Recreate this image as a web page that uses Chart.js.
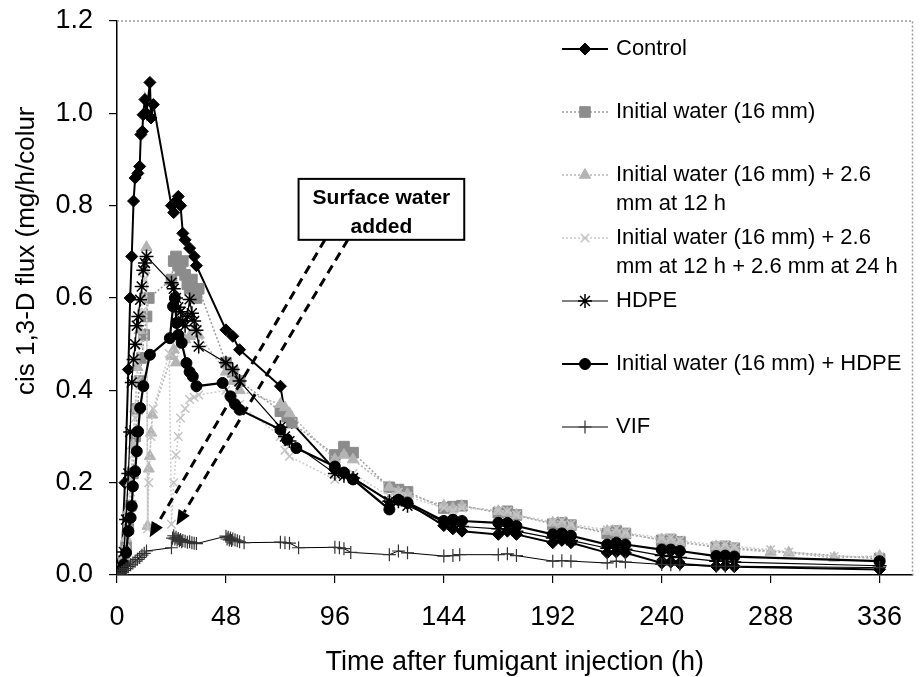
<!DOCTYPE html>
<html>
<head>
<meta charset="utf-8">
<script src="https://cdn.jsdelivr.net/npm/chart.js@4.4.1/dist/chart.umd.min.js"></script>
<style>
  html, body { margin: 0; padding: 0; background: #fff; }
  #fluxChart { display: block; }
</style>
</head>
<body>
<canvas id="fluxChart" width="921" height="677"></canvas>
<script>
// === tick labels ===
const xTickValues = [0, 48, 96, 144, 192, 240, 288, 336];
const yTickValues = [0, 0.2, 0.4, 0.6, 0.8, 1.0, 1.2];

// === series names (legend, wrapped like the original) ===
const seriesLabels = [
  ["Control"],
  ["Initial water (16 mm)"],
  ["Initial water (16 mm) + 2.6", "mm at 12 h"],
  ["Initial water (16 mm) + 2.6", "mm at 12 h + 2.6 mm at 24 h"],
  ["HDPE"],
  ["Initial water (16 mm) + HDPE"],
  ["VIF"]
];

// === data: time (h) and cis 1,3-D flux (mg/h/column) ===
const controlTimes = [0, 1, 2, 3.5, 5, 5.8, 6.5, 7.3, 8, 9.2, 10, 10.5, 11.2, 11.5, 12.3, 13, 14.5, 15, 16,
  24, 25, 26, 27, 28, 29, 30, 32, 34, 35, 48, 51, 54, 72, 74, 77, 96, 100, 104, 120, 124, 128,
  144, 148, 152, 168, 172, 176, 192, 196, 200, 216, 220, 224, 240, 244, 248, 264, 268, 272, 336];
const controlFlux = [0, 0.005, 0.03, 0.2, 0.445, 0.6, 0.69, 0.81, 0.86, 0.87, 0.885, 0.954, 0.961, 0.997, 1.03, 1.0, 1.067, 0.99, 1.019,
  0.8, 0.785, 0.81, 0.82, 0.8, 0.74, 0.726, 0.708, 0.69, 0.67, 0.531, 0.517, 0.488, 0.409, 0.35, 0.33, 0.228, 0.22, 0.21, 0.16, 0.163, 0.155,
  0.107, 0.1, 0.095, 0.088, 0.095, 0.088, 0.07, 0.075, 0.07, 0.048, 0.05, 0.048, 0.026, 0.028, 0.024, 0.019, 0.02, 0.018, 0.012];

const waterTimes = [0, 2, 3, 4, 5, 6, 7, 8, 9, 10, 11, 12, 13, 14,
  24, 25, 26, 27, 28, 29, 30, 31, 32, 33, 34, 35, 36, 48, 51, 54, 72, 75, 77, 96, 100, 104, 120, 124, 128,
  144, 148, 152, 168, 172, 176, 192, 196, 200, 216, 220, 224, 240, 244, 248, 264, 268, 272, 336];
const waterFlux = [0, 0.01, 0.03, 0.06, 0.1, 0.15, 0.22, 0.3, 0.36, 0.42, 0.47, 0.52, 0.56, 0.6,
  0.64, 0.68, 0.69, 0.67, 0.66, 0.68, 0.65, 0.63, 0.62, 0.64, 0.61, 0.6, 0.62, 0.46, 0.44, 0.42, 0.355, 0.343, 0.33, 0.26, 0.278, 0.265, 0.19, 0.185, 0.18,
  0.145, 0.148, 0.15, 0.135, 0.138, 0.13, 0.11, 0.113, 0.108, 0.09, 0.095, 0.09, 0.075, 0.077, 0.072, 0.06, 0.062, 0.058, 0.035];

const water12Times = [0, 2, 3, 4, 5, 6, 7, 8, 9, 10, 11, 12, 13, 13.5, 14, 14.5, 15, 15.5,
  24, 25, 26, 28, 30, 32, 34, 36, 48, 51, 54, 72, 74, 76, 96, 100, 104, 120, 124, 128,
  144, 148, 152, 168, 172, 176, 192, 196, 200, 216, 220, 224, 240, 244, 248, 264, 268, 272, 288, 296, 316, 336];
const water12Flux = [0, 0.01, 0.04, 0.08, 0.14, 0.2, 0.28, 0.36, 0.45, 0.53, 0.6, 0.66, 0.71, 0.106, 0.23, 0.257, 0.308, 0.347,
  0.474, 0.488, 0.46, 0.5, 0.51, 0.517, 0.53, 0.52, 0.44, 0.42, 0.4, 0.37, 0.363, 0.35, 0.25, 0.26, 0.25, 0.19, 0.18, 0.175,
  0.15, 0.145, 0.149, 0.138, 0.135, 0.13, 0.113, 0.11, 0.105, 0.095, 0.092, 0.088, 0.077, 0.075, 0.07, 0.062, 0.06, 0.056, 0.05, 0.048, 0.037, 0.041];

const water24Times = [0, 2, 3, 4, 5, 6, 7, 8, 9, 10, 11, 12, 13, 13.5, 14, 15, 16,
  23, 24, 25, 26, 27, 28, 30, 32, 34, 36, 48, 51, 54, 72, 74, 76, 96, 100, 104, 120, 124, 128,
  144, 148, 152, 168, 172, 176, 192, 196, 200, 216, 220, 224, 240, 244, 248, 264, 268, 272, 288, 296, 316, 336];
const water24Flux = [0, 0.01, 0.035, 0.07, 0.12, 0.18, 0.26, 0.34, 0.42, 0.5, 0.57, 0.64, 0.69, 0.1, 0.2, 0.3, 0.36,
  0.48, 0.11, 0.2, 0.26, 0.3, 0.34, 0.36, 0.38, 0.385, 0.39, 0.4, 0.38, 0.37, 0.3, 0.27, 0.257, 0.207, 0.215, 0.22, 0.17, 0.18, 0.17,
  0.145, 0.14, 0.145, 0.14, 0.138, 0.13, 0.115, 0.118, 0.11, 0.098, 0.1, 0.092, 0.08, 0.08, 0.075, 0.065, 0.066, 0.062, 0.055, 0.05, 0.04, 0.04];

const hdpeTimes = [0, 2, 3, 4, 5, 5.8, 6.5, 7.3, 8, 8.7, 9.4, 10.2, 10.9, 11.6, 12.3, 13,
  24, 25, 26, 27, 28, 29, 30, 31, 32, 33, 34, 35, 36, 48, 51, 54, 72, 74, 76, 96, 100, 104, 120, 124, 128,
  144, 148, 152, 168, 172, 176, 192, 196, 200, 216, 220, 224, 240, 244, 248, 264, 268, 272, 336];
const hdpeFlux = [0, 0.01, 0.05, 0.12, 0.22, 0.31, 0.417, 0.467, 0.5, 0.54, 0.56, 0.596, 0.625, 0.66, 0.676, 0.69,
  0.633, 0.62, 0.6, 0.58, 0.57, 0.55, 0.54, 0.56, 0.597, 0.567, 0.55, 0.53, 0.495, 0.46, 0.445, 0.42, 0.32, 0.3, 0.29, 0.22, 0.215, 0.21, 0.16, 0.16, 0.15,
  0.115, 0.11, 0.105, 0.1, 0.1, 0.095, 0.08, 0.08, 0.075, 0.058, 0.06, 0.056, 0.042, 0.04, 0.038, 0.03, 0.03, 0.028, 0.02];

const waterHdpeTimes = [0, 2, 3, 4, 5, 6, 6.5, 7, 8, 8.7, 9.3, 10.2, 11.6, 14.5,
  23.3, 24.7, 25.5, 26.2, 27, 28.5, 30.6, 32, 33.4, 35, 46.5, 50, 52, 54, 72, 75, 79, 96, 100, 104, 120, 124, 128,
  144, 148, 152, 168, 172, 176, 192, 196, 200, 216, 220, 224, 240, 244, 248, 264, 268, 272, 336];
const waterHdpeFlux = [0, 0.01, 0.023, 0.048, 0.095, 0.124, 0.149, 0.192, 0.225, 0.268, 0.311, 0.362, 0.409, 0.477,
  0.513, 0.582, 0.6, 0.546, 0.52, 0.503, 0.459, 0.44, 0.43, 0.409, 0.416, 0.387, 0.37, 0.358, 0.315, 0.293, 0.275, 0.235, 0.222, 0.207, 0.142, 0.163, 0.157,
  0.117, 0.12, 0.117, 0.113, 0.113, 0.106, 0.088, 0.09, 0.085, 0.066, 0.07, 0.066, 0.055, 0.055, 0.052, 0.041, 0.042, 0.04, 0.03];

const vifTimes = [0, 1, 2, 3, 4, 5, 6, 7, 8, 9, 10, 11, 12, 13,
  24, 24.5, 25, 25.5, 26, 26.5, 27, 27.5, 28, 28.5, 29, 30, 31, 32, 33, 34, 35,
  48, 48.5, 49, 49.5, 50, 50.5, 51, 52, 53, 54, 56, 72, 74, 76, 80, 96, 98, 100, 103, 120, 124, 128,
  144, 148, 151, 168, 172, 176, 192, 196, 200, 216, 220, 224, 240, 244, 248, 264, 268, 272, 336];
const vifFlux = [0, 0.003, 0.006, 0.01, 0.014, 0.018, 0.022, 0.026, 0.03, 0.034, 0.038, 0.043, 0.047, 0.052,
  0.059, 0.08, 0.085, 0.078, 0.082, 0.076, 0.079, 0.074, 0.077, 0.072, 0.075, 0.073, 0.071, 0.072, 0.07, 0.069, 0.068,
  0.084, 0.078, 0.082, 0.076, 0.08, 0.075, 0.078, 0.076, 0.074, 0.072, 0.07, 0.071, 0.07, 0.069, 0.059, 0.06, 0.059, 0.057, 0.049, 0.044, 0.052, 0.048,
  0.041, 0.042, 0.044, 0.044, 0.046, 0.042, 0.03, 0.031, 0.03, 0.026, 0.03, 0.028, 0.023, 0.022, 0.022, 0.019, 0.019, 0.019, 0.016];

// === look of each series ===
const FONT = "'Liberation Sans', Arial, sans-serif";
const seriesStyles = [
  { point: "rectRot",  radius: 6,   fill: "#000",    stroke: "#000",    pw: 1,   line: "#000",    width: 2,   dash: [] },
  { point: "rect",     radius: 7.5, fill: "#8c8c8c", stroke: "#8c8c8c", pw: 1,   line: "#9a9a9a", width: 1.5, dash: [2, 2] },
  { point: "triangle", radius: 6.5, fill: "#b4b4b4", stroke: "#b4b4b4", pw: 1,   line: "#b4b4b4", width: 1.5, dash: [2, 2] },
  { point: "crossRot", radius: 6,   fill: "#cfcfcf", stroke: "#c4c4c4", pw: 1.5, line: "#cccccc", width: 1.5, dash: [2, 2] },
  { point: "star",     radius: 7,   fill: "#000",    stroke: "#000",    pw: 1.5, line: "#000",    width: 1.2, dash: [] },
  { point: "circle",   radius: 5.5, fill: "#000",    stroke: "#000",    pw: 1,   line: "#000",    width: 2.2, dash: [] },
  { point: "cross",    radius: 6.5, fill: "#333",    stroke: "#333",    pw: 1.2, line: "#000",    width: 1,   dash: [] }
];

const pairs = (t, v) => t.map((h, i) => ({ x: h, y: v[i] }));
const seriesData = [
  pairs(controlTimes, controlFlux),
  pairs(waterTimes, waterFlux),
  pairs(water12Times, water12Flux),
  pairs(water24Times, water24Flux),
  pairs(hdpeTimes, hdpeFlux),
  pairs(waterHdpeTimes, waterHdpeFlux),
  pairs(vifTimes, vifFlux)
];

const datasets = seriesData.map((d, i) => {
  const s = seriesStyles[i];
  return {
    label: seriesLabels[i].join(" "),
    data: d,
    showLine: true,
    tension: 0,
    order: seriesData.length - i,   // later series on top, like the original
    borderColor: s.line,
    borderWidth: s.width,
    borderDash: s.dash,
    pointStyle: s.point,
    pointRadius: s.radius,
    pointBackgroundColor: s.fill,
    pointBorderColor: s.stroke,
    pointBorderWidth: s.pw
  };
});

// === frame, axis titles, annotation and legend ===
function drawArrow(ctx, x0, y0, x1, y1) {
  const ang = Math.atan2(y1 - y0, x1 - x0);
  const head = 15, half = 6.5;
  const bx = x1 - head * Math.cos(ang), by = y1 - head * Math.sin(ang);
  ctx.save();
  ctx.strokeStyle = "#000";
  ctx.lineWidth = 3;
  ctx.setLineDash([9, 6]);
  ctx.beginPath();
  ctx.moveTo(x0, y0);
  ctx.lineTo(bx, by);
  ctx.stroke();
  ctx.setLineDash([]);
  ctx.fillStyle = "#000";
  ctx.beginPath();
  ctx.moveTo(x1, y1);
  ctx.lineTo(bx + half * Math.sin(ang), by - half * Math.cos(ang));
  ctx.lineTo(bx - half * Math.sin(ang), by + half * Math.cos(ang));
  ctx.closePath();
  ctx.fill();
  ctx.restore();
}

const extras = {
  id: "extras",
  beforeDatasetsDraw(chart) {
    const { ctx, chartArea: a } = chart;
    ctx.save();
    ctx.strokeStyle = "#9a9a9a";
    ctx.lineWidth = 1.5;
    ctx.setLineDash([2, 2]);
    ctx.beginPath();
    ctx.moveTo(a.left, a.top);
    ctx.lineTo(a.right, a.top);
    ctx.lineTo(a.right, a.bottom);
    ctx.stroke();
    ctx.restore();
  },
  afterDraw(chart) {
    const { ctx, chartArea: a } = chart;
    const sx = chart.scales.x, sy = chart.scales.y;

    // y title (clipped at the top, as in the original)
    ctx.save();
    ctx.beginPath();
    ctx.rect(0, 107, 70, 570);
    ctx.clip();
    ctx.translate(27, 395);
    ctx.rotate(-Math.PI / 2);
    ctx.font = "26px " + FONT;
    ctx.fillStyle = "#000";
    ctx.textAlign = "left";
    ctx.textBaseline = "middle";
    ctx.fillText("cis 1,3-D flux (mg/h/column)", 0, 0);
    ctx.restore();

    // x title
    ctx.save();
    ctx.font = "27px " + FONT;
    ctx.fillStyle = "#000";
    ctx.textAlign = "center";
    ctx.textBaseline = "alphabetic";
    ctx.fillText("Time after fumigant injection (h)", (a.left + a.right) / 2, 670);
    ctx.restore();

    // "Surface water added" box and arrows (placed in data units)
    const bl = sx.getPixelForValue(80), br = sx.getPixelForValue(153);
    const bt = sy.getPixelForValue(0.858), bb = sy.getPixelForValue(0.726);
    drawArrow(ctx, sx.getPixelForValue(91.6), bb, sx.getPixelForValue(14.4), sy.getPixelForValue(0.082));
    drawArrow(ctx, sx.getPixelForValue(101.7), bb, sx.getPixelForValue(26.2), sy.getPixelForValue(0.108));
    ctx.save();
    ctx.fillStyle = "#fff";
    ctx.fillRect(bl, bt, br - bl, bb - bt);
    ctx.strokeStyle = "#000";
    ctx.lineWidth = 2;
    ctx.strokeRect(bl, bt, br - bl, bb - bt);
    ctx.fillStyle = "#000";
    ctx.font = "bold 21px " + FONT;
    ctx.textAlign = "center";
    ctx.textBaseline = "alphabetic";
    ctx.fillText("Surface water", (bl + br) / 2, bt + 25);
    ctx.fillText("added", (bl + br) / 2, bt + 54);
    ctx.restore();

    // legend
    const lx0 = 562, lx1 = 608, tx = 616;
    ctx.save();
    ctx.font = "22px " + FONT;
    ctx.textBaseline = "middle";
    ctx.textAlign = "left";
    seriesLabels.forEach((lines, i) => {
      const s = seriesStyles[i];
      const y = 49 + 63 * i;
      ctx.strokeStyle = s.line;
      ctx.lineWidth = s.width;
      ctx.setLineDash(s.dash);
      ctx.beginPath();
      ctx.moveTo(lx0, y);
      ctx.lineTo(lx1, y);
      ctx.stroke();
      ctx.setLineDash([]);
      ctx.fillStyle = s.fill;
      ctx.strokeStyle = s.stroke;
      ctx.lineWidth = s.pw;
      Chart.helpers.drawPoint(ctx, { pointStyle: s.point, radius: s.radius, rotation: 0, borderWidth: s.pw }, (lx0 + lx1) / 2, y);
      ctx.fillStyle = "#000";
      lines.forEach((t, k) => ctx.fillText(t, tx, y + 29 * k));
    });
    ctx.restore();
  }
};

new Chart(document.getElementById("fluxChart"), {
  type: "scatter",
  data: { datasets },
  options: {
    responsive: false,
    animation: false,
    devicePixelRatio: 1,
    layout: { padding: { left: 0, right: 1, top: 21, bottom: 0 } },
    plugins: { legend: { display: false }, tooltip: { enabled: false } },
    scales: {
      x: {
        type: "linear",
        min: 0,
        max: 350.5,
        afterBuildTicks: s => { s.ticks = xTickValues.map(v => ({ value: v })); },
        afterFit: s => { s.height = 102; s.paddingLeft = 0; s.paddingRight = 0; },
        ticks: { font: { family: FONT, size: 27 }, color: "#000", padding: 18, maxRotation: 0, autoSkip: false },
        grid: { display: true, drawOnChartArea: false, drawTicks: true, tickLength: 8, color: "#000", lineWidth: 1.2 },
        border: { display: true, color: "#000", width: 1.5 }
      },
      y: {
        type: "linear",
        min: 0,
        max: 1.2,
        afterBuildTicks: s => { s.ticks = yTickValues.map(v => ({ value: v })); },
        afterFit: s => { s.width = 117; s.paddingTop = 0; s.paddingBottom = 0; },
        ticks: { font: { family: FONT, size: 27 }, color: "#000", padding: 16, callback: v => Number(v).toFixed(1) },
        grid: { display: true, drawOnChartArea: false, drawTicks: true, tickLength: 8, color: "#000", lineWidth: 1.2 },
        border: { display: true, color: "#000", width: 1.5 }
      }
    }
  },
  plugins: [extras]
});
</script>
</body>
</html>
